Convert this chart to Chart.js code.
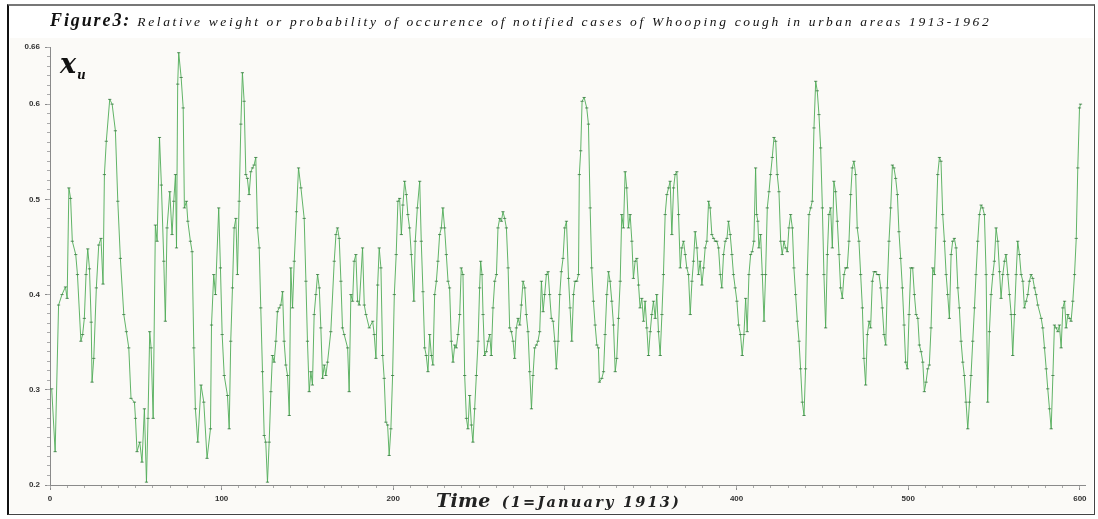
<!DOCTYPE html>
<html>
<head>
<meta charset="utf-8">
<script src="https://cdn.jsdelivr.net/npm/chart.js@4"></script>
<style>
  body { margin: 0; width: 1098px; height: 519px; overflow: hidden; position: relative; background: #fff; font-family: "Liberation Serif", "DejaVu Serif", serif; }
  #frame { position: absolute; left: 7px; top: 4px; width: 1088px; height: 511px; box-sizing: border-box;
           border-left: 2px solid #111; border-top: 2px solid #777; border-right: 1px solid #444; border-bottom: 1px solid #444; }
  #paper { position: absolute; left: 10px; top: 38px; width: 1083px; height: 475px; background: #fbfaf7; }
  #wrap { position: absolute; left: 0; top: 0; width: 1098px; height: 519px; }
  #title { position: absolute; left: 50px; top: 10px; white-space: nowrap; font-style: italic; color: #111; }
  #title b { font-size: 18px; letter-spacing: 1.9px; }
  #title span { font-size: 13.5px; letter-spacing: 2.65px; }
  #xu { position: absolute; left: 60px; top: 48px; font-family: "DejaVu Serif", serif; font-style: italic; font-weight: bold; color: #111; }
  #xu .x { font-size: 27px; }
  #xu .u { font-size: 12px; position: relative; top: 6px; left: 1px; }
  #xlab { position: absolute; left: 436px; top: 489px; white-space: nowrap; font-family: "DejaVu Serif", serif; font-style: italic; font-weight: bold; color: #222; }
  #xlab .t { font-size: 19px; letter-spacing: 0.3px; }
  #xlab .s { font-size: 14.5px; margin-left: 11px; letter-spacing: 2.2px; }
</style>
</head>
<body>
<div id="frame"></div>
<div id="paper"></div>
<div id="wrap"><canvas id="chart"></canvas></div>
<div id="title"><b>Figure3:</b><span> Relative weight or probability of occurence of notified cases of Whooping cough in urban areas 1913-1962</span></div>
<div id="xu"><span class="x">x</span><span class="u">u</span></div>
<div id="xlab"><span class="t">Time</span><span class="s">(1=January 1913)</span></div>
<script>
// months since January 1913
const months = [
  1, 3, 5, 7, 9, 10, 11, 12, 13, 15, 16, 18, 19, 20, 21, 22, 23, 24, 24.5, 25.5,
  27, 28.4, 29.7, 30.9, 31.7, 32.8, 34.8, 36.2, 38.1, 39.5, 41, 43, 44.5, 45.9, 47.2, 49.2, 49.8, 50.7, 52.3, 53.6,
  55, 56.2, 57.1, 58.1, 58.9, 60.1, 61.4, 62.4, 63.8, 64.9, 66.3, 67.2, 68.2, 69.8, 71.1, 72.1, 73.1, 73.7, 74.4, 75,
  76.4, 77.6, 78.3, 79.5, 80.3, 81.8, 82.8, 83.8, 84.7, 86.1, 88, 89.6, 91.5, 93.5, 94.1, 95.4, 96.4, 98.3, 99.3, 100.3,
  101.5, 103.4, 104.4, 105.3, 106.3, 107.3, 108.3, 109.2, 110.2, 111.2, 112.1, 113.1, 114.1, 115, 116, 117, 118, 118.9, 119.9, 120.9,
  121.9, 122.8, 123.8, 124.8, 125.7, 126.7, 127.7, 128.7, 129.6, 130.6, 131.6, 132.5, 133.5, 134.5, 135.5, 136.4, 137.4, 138.4, 139.4, 140.3,
  141.3, 142.3, 143.6, 144.8, 146.2, 148.1, 149.1, 150, 151, 152, 152.9, 153.9, 154.9, 155.9, 156.9, 157.8, 158.8, 159.8, 160.7, 161.7,
  163.6, 165.6, 166.6, 167.5, 168.5, 169.5, 170.4, 171.4, 173.4, 174.3, 175.3, 176.3, 177.2, 178.2, 179.2, 180.2, 182.1, 183.1, 184.1, 186,
  188, 188.9, 189.9, 190.9, 191.8, 192.8, 193.8, 194.7, 195.7, 196.7, 197.6, 198.6, 199.6, 200.6,
  201.7, 202.7, 203.7, 204.7, 205.6, 206.6, 207.6, 208.5, 209.5, 210.5, 212, 212.8, 214, 215.4, 216.3, 217.3, 218.3, 219.2, 220.2, 221.2,
  222.2, 223.1, 224.1, 225.1, 226, 227, 228, 228.9, 229.9, 230.9, 231.9, 232.8, 233.8, 234.8, 235.8, 236.7, 237.7, 238.7, 239.6, 240.6,
  241.6, 242.6, 243.5, 244.5, 245.5, 246.4, 247.4, 248.4, 249.4, 250.3, 250.9, 251.7, 252.3, 253.2, 254.2, 255.2, 256.2, 257.1, 258.1, 259.1,
  260.1, 261, 262, 263, 263.9, 264.9, 265.9, 266.9, 267.8, 268.8, 269.8, 270.7, 271.7, 272.7, 273.7, 274.6, 275.6, 276.6, 277.5, 278.5,
  279.5, 280.5, 281.4, 282.4, 283.4, 284.3, 285.3, 286.3, 287.3, 288.2, 289.2, 290.2, 291.1, 292.1, 293.1, 294.1, 295, 296, 297, 297.9,
  298.9, 299.9, 300.9,
  302.1, 303, 304, 305, 305.9, 306.9, 307.9, 308.4, 309.2, 310, 311.2, 312.7, 313.7, 314.7, 315.6, 316.6, 317.6, 318.6, 319.5, 320.1,
  321.5, 322.5, 323.4, 324.4, 325.4, 326.3, 327.3, 328.3, 329.3, 330.2, 331.2, 332.2, 333.1, 334.1, 335.1, 336, 337, 338, 339, 339.9,
  340.9, 341.9, 342.9, 343.8, 344.8, 345.8, 346.7, 347.7, 348.7, 349.7, 350.6, 351.6, 352.6, 353.5, 354.5, 355.5, 356.5, 357.4, 358.4, 359.4,
  360.4, 361.3, 362.3, 363.3, 364.2, 365.2, 366.2, 367.2, 368.1, 369.1, 370.1, 371, 372, 373, 374, 374.9, 375.9, 376.9, 377.8, 378.8,
  379.8, 380.8, 381.7, 382.7, 383.7, 384.6, 385.6, 386.6, 387.6, 388.5, 389.5, 390.5, 391.4, 392.4, 393.4, 394.4, 395.3, 396.3, 397.3, 398.2,
  399.2, 400.2, 401.2,
  402.3, 403.3, 404.3, 405.3, 406.2, 407.2, 408.2, 409.1, 410.1, 411.1, 411.7, 412.4, 413, 414, 415, 416, 416.9, 417.9, 418.9, 419.8,
  420.8, 421.8, 422.8, 423.7, 424.7, 425.7, 426.6, 427.6, 428.6, 429.6, 430.5, 431.5, 432.5, 433.4, 434.4, 435.4, 436.4, 437.3, 438.3, 439.3,
  440.2, 441.2, 442.2, 443.2, 444.1, 445.1, 446.1, 447, 448, 449, 450, 450.9, 451.9, 452.9, 453.8, 454.8, 455.8, 456.7, 457.7, 458.7,
  459.7, 460.6, 461.6, 462.6, 463.5, 464.5, 465.5, 466.5, 467.4, 468.4, 469.4, 470.3, 471.3, 472.3, 473.3, 474.2, 475.2, 476.2, 477.2, 478.1,
  479.1, 480.1, 481, 482, 483, 484, 484.9, 485.9, 486.9, 487.8, 488.8, 489.8, 490.8, 491.7, 492.7, 493.7, 494.6, 495.6, 496.6, 497.6,
  498.5, 499.5, 500.5, 501.5,
  502.6, 503.6, 504.6, 505.6, 506.5, 507.5, 508.5, 509.4, 510.4, 511.4, 512.3, 513.3, 514.3, 515.3, 516.2, 517.2, 518.2, 519.1, 520.1, 521.1,
  522.1, 523, 524, 525, 525.9, 526.9, 527.9, 528.9, 529.8, 530.8, 531.8, 532.7, 533.7, 534.7, 535.7, 536.6, 537.6, 538.6, 539.5, 540.5,
  541.5, 542.5, 543.4, 544.4, 545.4, 546.3, 547.3, 548.3, 549.3, 550.2, 551.2, 552.2, 553.2, 554.1, 555.1, 556.1, 557, 558, 559, 560,
  560.9, 561.9, 562.9, 563.8, 564.8, 565.8, 566.8, 567.7, 568.7, 569.7, 570.6, 571.6, 572.6, 573.6, 574.5, 575.5, 577.5, 578.4, 579.4, 580.4,
  581.3, 582.3, 583.3, 584.3, 585.2, 586.2, 587.2, 588.1, 589.1, 590.1, 591.1, 592, 593, 594, 594.9, 595.9, 596.9, 597.9, 598.8, 599.8,
  600.4
];

// relative weight x_u
const weights = [
  0.301, 0.235, 0.389, 0.400, 0.408, 0.396, 0.512, 0.501, 0.456, 0.442, 0.421, 0.351, 0.358, 0.375, 0.421, 0.448, 0.427, 0.371, 0.308, 0.333,
  0.407, 0.452, 0.459, 0.411, 0.526, 0.561, 0.605, 0.600, 0.572, 0.498, 0.438, 0.379, 0.361, 0.344, 0.291, 0.287, 0.270, 0.235, 0.245, 0.224,
  0.280, 0.203, 0.270, 0.361, 0.344, 0.270, 0.473, 0.456, 0.565, 0.515, 0.435, 0.372, 0.470, 0.508, 0.463, 0.498, 0.526, 0.449, 0.621, 0.654,
  0.628, 0.596, 0.491, 0.498, 0.477, 0.456, 0.445, 0.344, 0.280, 0.245, 0.305, 0.287, 0.228, 0.259, 0.368, 0.421, 0.400, 0.491, 0.428, 0.358,
  0.315, 0.294, 0.259, 0.351, 0.407, 0.470, 0.480, 0.421, 0.498, 0.579, 0.633, 0.603, 0.526, 0.522, 0.505, 0.529, 0.533, 0.536, 0.544, 0.470,
  0.449, 0.386, 0.319, 0.252, 0.245, 0.203, 0.245, 0.298, 0.336, 0.329, 0.351, 0.382, 0.386, 0.389, 0.403, 0.351, 0.326, 0.315, 0.273, 0.428,
  0.386, 0.435, 0.487, 0.533, 0.512, 0.480, 0.414, 0.351, 0.298, 0.319, 0.305, 0.379, 0.400, 0.421, 0.407, 0.365, 0.312, 0.326, 0.315, 0.329,
  0.361, 0.435, 0.463, 0.470, 0.459, 0.414, 0.365, 0.358, 0.344, 0.298, 0.400, 0.393, 0.435, 0.442, 0.393, 0.389, 0.449, 0.389, 0.379, 0.365,
  0.372, 0.358, 0.333, 0.410, 0.449, 0.428, 0.336, 0.312, 0.266, 0.263, 0.231, 0.259, 0.315, 0.400,
  0.442, 0.498, 0.501, 0.463, 0.494, 0.519, 0.505, 0.484, 0.470, 0.442, 0.393, 0.456, 0.491, 0.519, 0.456, 0.403, 0.344, 0.336, 0.319, 0.358,
  0.336, 0.326, 0.400, 0.414, 0.435, 0.463, 0.470, 0.491, 0.470, 0.442, 0.414, 0.407, 0.351, 0.329, 0.347, 0.344, 0.358, 0.379, 0.428, 0.421,
  0.315, 0.270, 0.259, 0.294, 0.263, 0.245, 0.280, 0.315, 0.351, 0.407, 0.435, 0.421, 0.379, 0.336, 0.340, 0.351, 0.358, 0.336, 0.386, 0.414,
  0.421, 0.470, 0.480, 0.477, 0.487, 0.480, 0.470, 0.428, 0.365, 0.361, 0.351, 0.333, 0.365, 0.375, 0.368, 0.389, 0.414, 0.407, 0.379, 0.361,
  0.319, 0.280, 0.315, 0.344, 0.347, 0.351, 0.361, 0.414, 0.382, 0.400, 0.421, 0.424, 0.400, 0.375, 0.372, 0.351, 0.322, 0.351, 0.400, 0.424,
  0.438, 0.470, 0.477,
  0.417, 0.386, 0.351, 0.400, 0.414, 0.414, 0.421, 0.526, 0.551, 0.603, 0.607, 0.596, 0.579, 0.491, 0.428, 0.393, 0.368, 0.347, 0.344, 0.308,
  0.312, 0.319, 0.358, 0.400, 0.424, 0.414, 0.393, 0.368, 0.319, 0.333, 0.375, 0.414, 0.484, 0.470, 0.529, 0.512, 0.470, 0.484, 0.456, 0.417,
  0.435, 0.438, 0.410, 0.386, 0.396, 0.372, 0.393, 0.365, 0.336, 0.361, 0.379, 0.393, 0.375, 0.400, 0.361, 0.336, 0.379, 0.421, 0.484, 0.505,
  0.512, 0.519, 0.463, 0.512, 0.526, 0.529, 0.484, 0.428, 0.449, 0.456, 0.442, 0.428, 0.421, 0.379, 0.414, 0.435, 0.466, 0.449, 0.421, 0.435,
  0.410, 0.428, 0.449, 0.456, 0.498, 0.491, 0.463, 0.459, 0.456, 0.456, 0.449, 0.421, 0.407, 0.442, 0.456, 0.459, 0.477, 0.463, 0.442, 0.421,
  0.407, 0.393, 0.368,
  0.358, 0.336, 0.358, 0.396, 0.361, 0.421, 0.442, 0.445, 0.456, 0.533, 0.484, 0.477, 0.449, 0.463, 0.421, 0.372, 0.421, 0.491, 0.508, 0.526,
  0.544, 0.565, 0.561, 0.526, 0.508, 0.456, 0.442, 0.456, 0.449, 0.445, 0.470, 0.484, 0.470, 0.428, 0.400, 0.372, 0.351, 0.322, 0.287, 0.273,
  0.322, 0.421, 0.484, 0.491, 0.498, 0.575, 0.624, 0.614, 0.589, 0.554, 0.491, 0.421, 0.365, 0.442, 0.484, 0.491, 0.449, 0.519, 0.508, 0.477,
  0.442, 0.407, 0.396, 0.421, 0.428, 0.428, 0.456, 0.505, 0.533, 0.540, 0.526, 0.470, 0.456, 0.421, 0.386, 0.333, 0.305, 0.358, 0.372, 0.365,
  0.414, 0.424, 0.424, 0.421, 0.421, 0.407, 0.386, 0.358, 0.347, 0.407, 0.456, 0.491, 0.536, 0.533, 0.522, 0.505, 0.466, 0.438, 0.407, 0.368,
  0.329, 0.322, 0.379, 0.428,
  0.428, 0.400, 0.379, 0.375, 0.347, 0.340, 0.329, 0.298, 0.308, 0.322, 0.326, 0.365, 0.428, 0.421, 0.470, 0.526, 0.544, 0.540, 0.484, 0.456,
  0.421, 0.400, 0.375, 0.442, 0.456, 0.459, 0.449, 0.407, 0.386, 0.351, 0.329, 0.315, 0.287, 0.259, 0.287, 0.315, 0.351, 0.386, 0.421, 0.456,
  0.484, 0.494, 0.491, 0.484, 0.421, 0.287, 0.361, 0.400, 0.421, 0.435, 0.470, 0.456, 0.424, 0.396, 0.421, 0.435, 0.442, 0.421, 0.400, 0.379,
  0.336, 0.379, 0.421, 0.456, 0.442, 0.421, 0.414, 0.386, 0.393, 0.400, 0.414, 0.421, 0.417, 0.407, 0.400, 0.389, 0.375, 0.365, 0.344, 0.322,
  0.301, 0.280, 0.259, 0.315, 0.368, 0.365, 0.361, 0.368, 0.344, 0.386, 0.393, 0.365, 0.379, 0.375, 0.372, 0.393, 0.421, 0.459, 0.533, 0.596,
  0.600
];

const xTicks = [0, 100, 200, 300, 400, 500, 600];
const xTickLabels = ['0', '100', '200', '', '400', '500', '600']; // 300 sits under the axis title
const yTicks = [0.2, 0.3, 0.4, 0.5, 0.6, 0.66];
const yTickLabels = ['0.2', '0.3', '0.4', '0.5', '0.6', '0.66'];

const axisColor = '#8a8a8a';
const tickFont = { family: 'Arial, "Liberation Sans", sans-serif', size: 8, weight: 'bold' };

new Chart(document.getElementById('chart'), {
  type: 'line',
  data: {
    datasets: [{
      data: months.map((m, i) => ({ x: m, y: weights[i] })),
      borderColor: 'rgba(80, 172, 88, 0.9)',
      borderWidth: 1,
      pointStyle: 'line',
      pointRadius: 1.6,
      pointBorderColor: 'rgba(40, 110, 50, 0.75)',
      pointBorderWidth: 1,
      tension: 0,
      xAxisID: 'x',
      yAxisID: 'y'
    }]
  },
  options: {
    responsive: true,
    maintainAspectRatio: false,
    animation: false,
    layout: { padding: { left: 0, top: 47, right: 13, bottom: 0 } },
    plugins: { legend: { display: false }, tooltip: { enabled: false } },
    scales: {
      x: {
        type: 'linear', position: 'bottom', weight: 1, min: 0, max: 603,
        afterBuildTicks: s => { s.ticks = xTicks.map(v => ({ value: v })); },
        afterFit: s => { s.height = 34; },
        ticks: {
          font: tickFont, color: '#333', padding: 4, maxRotation: 0,
          callback: (v, i) => xTickLabels[i]
        },
        grid: { drawOnChartArea: false, tickLength: 5, color: axisColor },
        border: { color: axisColor }
      },
      xMinor: {
        type: 'linear', position: 'bottom', weight: 0, min: 0, max: 603,
        afterFit: s => { s.height = 0; },
        ticks: { display: false, stepSize: 10, includeBounds: false },
        grid: { drawOnChartArea: false, tickLength: 3, color: '#aaa' },
        border: { display: false }
      },
      y: {
        type: 'linear', position: 'left', weight: 1, min: 0.2, max: 0.66,
        afterBuildTicks: s => { s.ticks = yTicks.map(v => ({ value: v })); },
        afterFit: s => { s.width = 50; },
        ticks: {
          font: tickFont, color: '#333', padding: 5,
          callback: (v, i) => yTickLabels[i]
        },
        grid: { drawOnChartArea: false, tickLength: 5, color: axisColor },
        border: { color: axisColor }
      },
      yMinor: {
        type: 'linear', position: 'left', weight: 0, min: 0.2, max: 0.66,
        afterFit: s => { s.width = 0; },
        ticks: { display: false, stepSize: 0.01, includeBounds: false },
        grid: { drawOnChartArea: false, tickLength: 3, color: '#aaa' },
        border: { display: false }
      }
    }
  }
});
</script>
</body>
</html>
